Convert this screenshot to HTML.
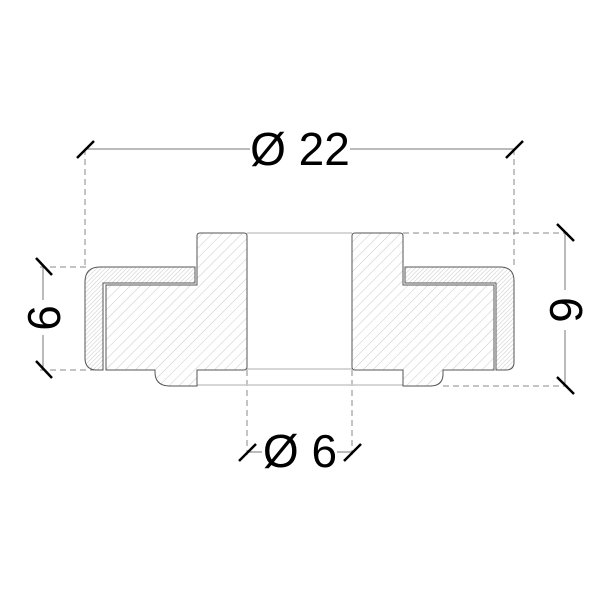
<!DOCTYPE html>
<html><head><meta charset="utf-8"><style>html,body{margin:0;padding:0;background:#fff}svg{display:block}</style></head><body>
<svg width="600" height="600" viewBox="0 0 600 600" xmlns="http://www.w3.org/2000/svg">
<defs>
<pattern id="h1" width="7" height="7" patternUnits="userSpaceOnUse" patternTransform="rotate(45)"><line x1="0" y1="0" x2="0" y2="7" stroke="#c8c8c8" stroke-width="1"/></pattern>
<pattern id="h2" width="3" height="3" patternUnits="userSpaceOnUse" patternTransform="rotate(45)"><line x1="0" y1="0" x2="0" y2="3" stroke="#c8c8c8" stroke-width="1"/></pattern>
</defs>
<rect width="600" height="600" fill="#fff"/>
<g stroke="#888" stroke-width="1" stroke-dasharray="6,4" fill="none">
<line x1="85" y1="149" x2="85" y2="267"/>
<line x1="514" y1="149" x2="514" y2="267"/>
<line x1="40" y1="267" x2="88" y2="267"/>
<line x1="40" y1="370" x2="100" y2="370"/>
<line x1="403" y1="233" x2="568" y2="233"/>
<line x1="443" y1="386" x2="568" y2="386"/>
<line x1="247" y1="370" x2="247" y2="455"/>
<line x1="352" y1="370" x2="352" y2="455"/>
</g>
<g stroke="#c8c8c8" stroke-width="1.5">
<line x1="247" y1="233" x2="352" y2="233"/>
<line x1="247" y1="369" x2="352" y2="369"/>
<line x1="197" y1="385" x2="403" y2="385"/>
</g>
<g stroke="#777" stroke-width="1">
<line x1="85" y1="149" x2="250" y2="149"/><line x1="350" y1="149" x2="514" y2="149"/>
<line x1="43" y1="267" x2="43" y2="300"/><line x1="43" y1="335" x2="43" y2="370"/>
<line x1="565" y1="233" x2="565" y2="290"/><line x1="565" y1="330" x2="565" y2="386"/>
<line x1="247" y1="452" x2="262" y2="452"/><line x1="337" y1="452" x2="352" y2="452"/>
</g>
<g stroke="#000" stroke-width="2.5">
<line x1="77" y1="158" x2="94" y2="141"/>
<line x1="506" y1="158" x2="523" y2="141"/>
<line x1="36" y1="258" x2="52" y2="275"/>
<line x1="36" y1="361" x2="52" y2="378"/>
<line x1="557" y1="224" x2="574" y2="241"/>
<line x1="557" y1="377" x2="574" y2="394"/>
<line x1="239" y1="461" x2="256" y2="444"/>
<line x1="344" y1="461" x2="361" y2="444"/>
</g>
<g stroke="#555" stroke-width="1">
<!-- left shell -->
<path d="M195,267 L100,267 Q85,267 85,282 L85,358 Q85,370 97,370 L103,370 L103,283 L195,283 Z" fill="url(#h2)"/>
<!-- left body -->
<path d="M200,233 L244,233 Q247,233 247,236 L247,367 Q247,370 244,370 L197,370 L197,386 L170,386 Q155,386 155,372 L155,370 L106,370 L106,285 L197,285 L197,236 Q197,233 200,233 Z" fill="url(#h1)"/>
<!-- right shell -->
<path d="M405,267 L500,267 Q514,267 514,281 L514,362 Q514,370 506,370 L496,370 L496,283 L405,283 Z" fill="url(#h2)"/>
<!-- right body -->
<path d="M355,233 L400,233 Q403,233 403,236 L403,285 L494,285 L494,370 L443,370 L443,374 Q443,386 430,386 L403,386 L403,370 L355,370 Q352,370 352,367 L352,236 Q352,233 355,233 Z" fill="url(#h1)"/>
</g>
<g font-family="Liberation Sans, sans-serif" fill="#000" font-size="46">
<text x="300" y="165" text-anchor="middle">Ø 22</text>
<text x="300" y="467" text-anchor="middle">Ø 6</text>
<text transform="translate(60,318) rotate(-90)" text-anchor="middle">6</text>
<text transform="translate(582,310) rotate(-90)" text-anchor="middle">9</text>
</g>
</svg>
</body></html>
